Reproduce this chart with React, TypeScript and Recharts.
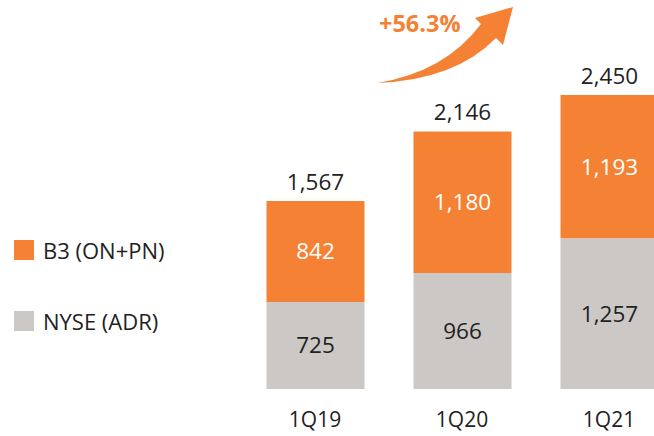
import { BarChart, Bar, XAxis, YAxis, LabelList } from 'recharts';

const quarters = ['1Q19', '1Q20', '1Q21'];
const nyse = [725, 966, 1257];
const b3 = [842, 1180, 1193];
const totals = [1567, 2146, 2450];
const growthLabel = '+56.3%';

const ORANGE = '#F48134';
const GREY = '#CCC8C5';
const DARK = '#222222';
const FONT = '"Open Sans", "Noto Sans", sans-serif';

const data = quarters.map((q, i) => ({ name: q, nyse: nyse[i], b3: b3[i], total: totals[i] }));

const fmt = (v: any) => Number(v).toLocaleString('en-US');

export default function App() {
    return (
        <div style={{ position: 'absolute', left: 0, top: 0, width: 654, height: 436, overflow: 'hidden', background: '#fff', fontFamily: FONT }}>
            <BarChart width={700} height={436} data={data} margin={{ top: 29, right: 17.5, left: 241.5, bottom: 17 }}>
                <XAxis dataKey="name" axisLine={false} tickLine={false} height={30} dy={15}
                    tick={{ fontSize: 21, fill: DARK, fontFamily: FONT }} />
                <YAxis hide domain={[0, 3000]} />
                <Bar dataKey="nyse" stackId="a" fill={GREY} barSize={98} isAnimationActive={false}>
                    <LabelList dataKey="nyse" position="center" formatter={fmt} style={{ fontSize: 22.5, fill: DARK, fontFamily: FONT }} />
                </Bar>
                <Bar dataKey="b3" stackId="a" fill={ORANGE} barSize={98} isAnimationActive={false}>
                    <LabelList dataKey="b3" position="center" formatter={fmt} style={{ fontSize: 22.5, fill: '#ffffff', fontFamily: FONT }} />
                    <LabelList dataKey="total" position="top" offset={11} formatter={fmt} style={{ fontSize: 22.5, fill: DARK, fontFamily: FONT }} />
                </Bar>
            </BarChart>

            {/* legend */}
            <div style={{ position: 'absolute', left: 14, top: 240, width: 20, height: 20, background: ORANGE }} />
            <div style={{ position: 'absolute', left: 43, top: 235, fontSize: 22, lineHeight: '30px', color: DARK }}>B3 (ON+PN)</div>
            <div style={{ position: 'absolute', left: 14, top: 311, width: 20, height: 20, background: GREY }} />
            <div style={{ position: 'absolute', left: 43, top: 306, fontSize: 22, lineHeight: '30px', color: DARK }}>NYSE (ADR)</div>

            {/* growth arrow */}
            <svg width={654} height={100} style={{ position: 'absolute', left: 0, top: 0 }}>
                <path d="M377,83 Q445,72 481,24 L475,18 L513,7 L503,45 L496,38 Q455,80 377,83 Z" fill={ORANGE} />
                <text x={379} y={32} fontSize={23.5} fontWeight="bold" fill={ORANGE} fontFamily={FONT}>{growthLabel}</text>
            </svg>
        </div>
    );
}
